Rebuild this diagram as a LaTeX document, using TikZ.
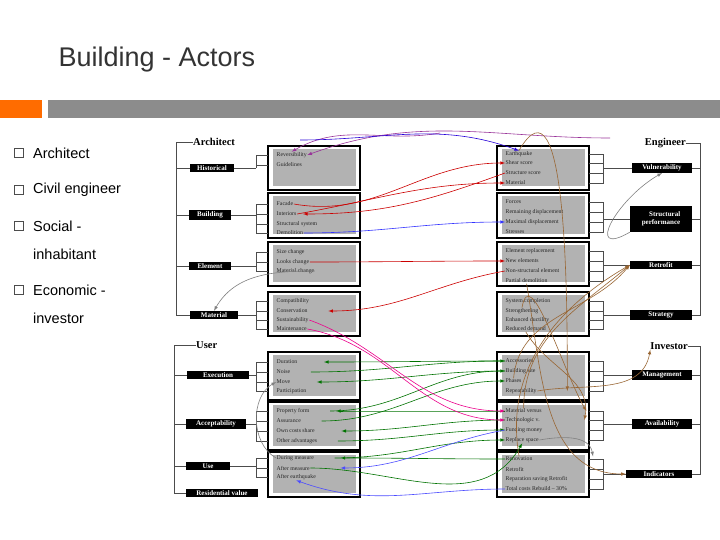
\documentclass[tikz,border=0pt]{standalone}
\usepackage{fontspec}
\setmainfont{Liberation Serif}
\newfontfamily\sansf{Liberation Sans}
\begin{document}
\begin{tikzpicture}[x=1pt,y=-1pt,
 lab/.style={fill=black,text=white,font=\bfseries\fontsize{7}{7.5}\selectfont,inner sep=1.6pt,anchor=center},
 hdr/.style={font=\bfseries\fontsize{10.5}{11}\selectfont,inner sep=0pt},
 it/.style={font=\fontsize{5.8}{6}\selectfont,inner sep=0.5pt,anchor=west,text=black!85},
 grp/.style={draw=black,line width=1.2pt},
 gbox/.style={fill=black!30},
 tr/.style={draw=black!70,line width=0.5pt},
 cv/.style={-latex,line width=0.6pt},
 bul/.style={font=\sansf\fontsize{14.5}{16}\selectfont,anchor=west,inner sep=0pt}]
\useasboundingbox (0,0) rectangle (720,540);
\fill[white] (0,0) rectangle (720,540);
\node[anchor=west,font=\sansf\fontsize{27}{29}\selectfont,text=black!80] (title) at (55,60) {Building - Actors};
\fill[orange!85!red] (0,100) rectangle (42,118);
\fill[black!45] (48,100) rectangle (720,118);
% bullets
\foreach \y/\t/\n in {153/Architect/b1,190/Civil engineer/b2,226/Social -/b3,290/Economic -/b4}{
 \draw[black!70,line width=0.5pt] (14,\y-5) rectangle (23,\y+4);
 \node[bul] (\n) at (33,\y) {\t};}
\node[bul] (b3b) at (33,254) {inhabitant};
\node[bul] (b4b) at (33,318) {investor};
% headers
\node[hdr,anchor=west] (hA) at (193,142) {Architect};
\node[hdr,anchor=east] (hE) at (686,143) {Engineer};
\node[hdr,anchor=west] (hU) at (196,345) {User};
\node[hdr,anchor=east] (hI) at (688,346) {Investor};
% bracket lines
\draw[tr] (hA.west)--(176,142)--(176,316);
\draw[tr] (hU.west)--(174,345)--(174,493);
\draw[tr] (hE.east)--(700,143)--(700,316);
\draw[tr] (hI.east)--(700,346)--(700,475);
% boxes
\foreach \x in {268,497}{
 \foreach \a/\b in {146/190,193/238,242/286,292/336,352/400,402/450,452/497}{
  \fill[white] (\x,\a) rectangle (\x+92,\b);
  \fill[gbox] (\x+5,\a+3) rectangle (\x+88,\b-4);
  \draw[grp] (\x,\a) rectangle (\x+92,\b);}}
% left items
\foreach \n/\y/\t in {L11/155/Reversibility,L12/165/Guidelines,
 L21/204/Facade,L22/214/Interiors,L23/224/Structural system,L24/233/Demolition,
 L31/252/Size change,L32/262/Looks change,L33/271/Material change,
 L41/301/Compatibility,L42/311/Conservation,L43/320/Sustainability,L44/329/Maintenance,
 L51/362/Duration,L52/372/Noise,L53/382/Move,L54/391/Participation,
 L61/411/Property form,L62/421/Assurance,L63/431/Own costs share,L64/441/Other advantages,
 L71/458/During measure,L72/468/After measure,L73/477/After earthquake}
 \node[it] (\n) at (276,\y) {\t};
% right items
\foreach \n/\y/\t in {R11/154/Earthquake,R12/163/Shear score,R13/173/Structure score,R14/183/Material,
 R21/202/Forces,R22/212/Remaining displacement,R23/222/Maximal displacement,R24/232/Stresses,
 R31/251/Element replacement,R32/261/New elements,R33/271/Non-structural element,R34/281/Partial demolition,
 R41/301/System completion,R42/311/Strengthening/Stiffening,R43/320/Enhanced ductility,R44/329/Reduced demand,
 R51/361/Accessories,R52/371/Building site,R53/381/Phases,R54/391/Repeatability,
 R61/411/Material versus,R62/420/Technologic v.,R63/430/Funding money,R64/440/Replace space,
 R71/459/Renovation/Rebuild,R72/469/Retrofit/Rebuild,R73/479/Reparation saving Retrofit,R74/489/Total costs Rebuild -- 30\%}
 \node[it] (\n) at (505,\y) {\t};
% left labels
\node[lab,minimum width=44pt] (Hist) at (212,168) {Historical};
\node[lab,minimum width=42pt] (Bldg) at (210,215) {Building};
\node[lab,minimum width=42pt] (Elem) at (210,266) {Element};
\node[lab,minimum width=48pt] (Matl) at (214,315) {Material};
\node[lab,minimum width=62pt] (Exec) at (218,375) {Execution};
\node[lab,minimum width=60pt] (Acc) at (216,424) {Acceptability};
\node[lab,minimum width=44pt] (Use) at (208,466) {Use};
\node[lab,minimum width=72pt] (Res) at (222,493) {Residential value};
% right labels
\node[lab,minimum width=60pt] (Vul) at (662,168) {Vulnerability};
\node[lab,minimum width=62pt,minimum height=26pt,align=right] (Str) at (661,219) {Structural\\performance};
\node[lab,minimum width=62pt] (Ret) at (661,265) {Retrofit};
\node[lab,minimum width=62pt] (Strat) at (661,315) {Strategy};
\node[lab,minimum width=60pt] (Man) at (662,375) {Management};
\node[lab,minimum width=60pt] (Av) at (662,424) {Availability};
\node[lab,minimum width=66pt] (Ind) at (659,474) {Indicators};
% bracket ticks
\foreach \n in {Hist,Bldg,Elem,Matl}{\draw[tr] (176,0|-\n.west)--(\n.west);}
\foreach \n in {Exec,Acc,Use,Res}{\draw[tr] (174,0|-\n.west)--(\n.west);}
\foreach \n in {Vul,Str,Ret,Strat,Man,Av,Ind}{\draw[tr] (\n.east)--(700,0|-\n.east);}
% trees left
\foreach \lab/\list in {Hist/{L11,L12},Bldg/{L21,L22,L23,L24},Elem/{L31,L32,L33},Matl/{L41,L42,L43,L44},
 Exec/{L51,L52,L53,L54},Acc/{L61,L62,L63,L64},Use/{L71,L72,L73}}{
 \draw[tr] (\lab.east)--(256,0|-\lab.east);
 \foreach \i in \list {\draw[tr] (256,0|-\lab.east)--(256,0|-\i.west)--(268,0|-\i.west);}}
% trees right
\foreach \lab/\list in {Vul/{R11,R12,R13,R14},Str/{R21,R22,R23,R24},Ret/{R31,R32,R33,R34},Strat/{R41,R42,R43,R44},
 Man/{R51,R52,R53,R54},Av/{R61,R62,R63,R64},Ind/{R71,R72,R73,R74}}{
 \draw[tr] (\lab.west)--(603,0|-\lab.west);
 \foreach \i in \list {\draw[tr] (603,0|-\lab.west)--(603,0|-\i.west)--(589,0|-\i.west);}}
% cross connectors
\coordinate (topA) at (440,133);
\draw[cv,violet!80] (topA) to[out=190,in=30] (L11.north);
\draw[cv,violet!80] (610,138) to[out=180,in=20] (L11.east);
\draw[cv,blue!70!violet] (300,140) to[out=0,in=160] (R11.north);
\draw[cv,red!80!black] (L21.east) to[out=-10,in=180] (R12.west);
\draw[cv,red!80!black] (L22.east) to[out=10,in=180] (R14.west);
\draw[cv,red!80!black] (R13.west) to[out=200,in=0] ([xshift=6pt]L22.east);
\draw[cv,red!80!black] (R33.west) to[out=190,in=0] ([xshift=20pt]L42.east);
\draw[cv,red!80!black] (L32.east) to[out=0,in=180] (R32.west);
\draw[cv,blue!80] (L24.east) to[out=0,in=180] (R23.west);
\draw[cv,gray] (L33.east) to[out=180,in=60] (Matl.north);
\draw[cv,gray] (Str.south west) to[out=-150,in=-150,looseness=2] (Vul.south);
\foreach \s/\t in {R51/L51,R52/L53,R61/L61,R62/L63,R71/L71}{
 \draw[cv,green!45!black] (\s.west) to[out=180,in=0] ([xshift=26pt]\t.east);}
\foreach \s/\t in {L52/R51,L61/R52,L62/R53,L64/R63,L71/R64}{
 \draw[cv,green!45!black] ([xshift=20pt]\s.east) to[out=0,in=180] (\t.west);}
\draw[cv,green!45!black] (L72.east) to[out=0,in=-120] (R64.south);
\draw[cv,magenta] (L43.east) to[out=-20,in=180] (R61.west);
\draw[cv,magenta] (L44.east) to[out=-10,in=180] (R62.west);
\draw[cv,blue!70] (R63.west) to[out=190,in=0] ([xshift=30pt]L72.east);
\draw[cv,blue!70] (R74.west) to[out=180,in=-20] (L73.south);
\draw[cv,brown!80!black] (R71.north) to[out=100,in=-150] (Ret.west);
\draw[cv,brown!80!black] (R61.north) to[out=90,in=-140] (Ret.west);
\draw[cv,brown!80!black] (R53.north) to[out=85,in=-130] (Ret.west);
\draw[cv,brown!80!black] (R54.east) to[out=10,in=-100] (hI.south west);
\draw[cv,brown!80!black] (R44.south) to[out=-60,in=80] ([xshift=44pt]R62.east);
\draw[cv,brown!80!black] (R42.north) to[out=80,in=120] ([xshift=44pt]R61.east);
\draw[cv,brown!80!black] (R11.north) to[out=60,in=90] ([xshift=30pt]R54.east);
\draw[cv,brown!80!black] (R34.south) to[out=-80,in=180] (Ind.west);
\draw[cv,gray] (R64.east) to[out=10,in=100] (593,412|-R71.north);
\draw[cv,gray] (L71.west) to[out=150,in=-150] (L53.west);
\end{tikzpicture}
\end{document}
